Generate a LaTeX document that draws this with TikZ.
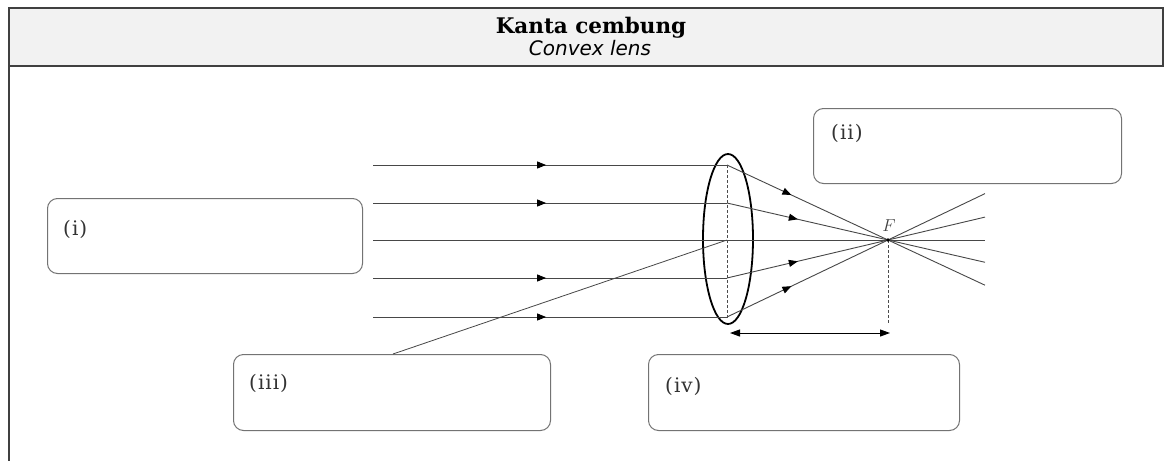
\documentclass[tikz,border=0pt]{standalone}
\usepackage{fontspec}
\setmainfont{DejaVu Serif}
\newfontfamily\subfont{DejaVu Sans}
\newfontfamily\lblfont[LetterSpace=5]{DejaVu Serif}
\usetikzlibrary{arrows.meta,decorations.markings,shapes.geometric}
\begin{document}
\begin{tikzpicture}[x=1pt,y=-1pt,
  framestroke/.style={draw=black!75,line width=1.2pt},
  ansbox/.style={draw=black!55,line width=1pt,rounded corners=10pt,anchor=north west,inner sep=0pt},
  lbl/.style={anchor=west,inner sep=0pt,text=black!80,font=\lblfont\fontsize{20}{21}\selectfont},
  ray/.style={draw=black!72,line width=0.9pt},
  arrowat/.style={postaction={decorate,decoration={markings,mark=at position #1 with {\arrow[black]{Triangle[length=9pt,width=7pt]}}}}},
  guide/.style={draw=black!70,line width=0.7pt,dash pattern=on 3pt off 2pt},
  dimarrow/.style={draw=black,line width=1pt,{Triangle[length=10pt,width=7pt]}-{Triangle[length=10pt,width=7pt]}}
]
\useasboundingbox (0,0) rectangle (1165,461);
\fill[white] (0,0) rectangle (1165,461);

% header and frame
\path[fill=black!5,framestroke] (9,8) rectangle (1163,66);
\draw[framestroke] (9,66) -- (9,461);
\node[anchor=base,inner sep=0pt,font=\fontsize{21.5}{24}\selectfont\bfseries] (t1) at (591,33) {Kanta cembung};
\node[anchor=base,inner sep=0pt,font=\subfont\itshape\fontsize{20}{24}\selectfont] (t2) at (590,55) {Convex lens};

% answer boxes
\node[ansbox,minimum width=315pt,minimum height=75pt] (bi) at (47,198) {};
\node[ansbox,minimum width=308pt,minimum height=75pt] (bii) at (813,108) {};
\node[ansbox,minimum width=317pt,minimum height=76pt] (biii) at (233,354) {};
\node[ansbox,minimum width=311pt,minimum height=76pt] (biv) at (648,354) {};
\node[lbl] (li) at (63,229) {(i)};
\node[lbl] (lii) at (831,133) {(ii)};
\node[lbl] (liii) at (249,383) {(iii)};
\node[lbl] (liv) at (665,386) {(iv)};

% lens
\node[draw=black,ellipse,line width=1.8pt,minimum width=50pt,minimum height=170pt,inner sep=0pt] (lens) at (728,239) {};

% coordinates
\coordinate (F) at (888,240);
\coordinate (s1) at (373,165);  \coordinate (l1) at (727,165);
\coordinate (s2) at (373,203);  \coordinate (l2) at (727,203);
\coordinate (s3) at (373,240);  \coordinate (e3) at (985,240);
\coordinate (s4) at (373,278);  \coordinate (l4) at (727,278);
\coordinate (s5) at (373,317);  \coordinate (l5) at (727,317);
\coordinate (e1) at (985,285.2);
\coordinate (e2) at (985,262.3);
\coordinate (e4) at (985,217.1);
\coordinate (e5) at (985,193.6);
\coordinate (lc) at (727,240);
\coordinate (lead) at (393,354);
\coordinate (dtop) at (727,165);
\coordinate (dbot) at (727,319);
\coordinate (fbot) at (888,324);
\coordinate (da) at (730,333);
\coordinate (db) at (890,333);

% incident rays
\draw[ray,arrowat=0.489] (s1) -- (l1);
\draw[ray,arrowat=0.489] (s2) -- (l2);
\draw[ray] (s3) -- (e3);
\draw[ray,arrowat=0.489] (s4) -- (l4);
\draw[ray,arrowat=0.489] (s5) -- (l5);

% refracted rays
\draw[ray,arrowat=0.40] (l1) -- (F);
\draw[ray,arrowat=0.44] (l2) -- (F);
\draw[ray,arrowat=0.44] (l4) -- (F);
\draw[ray,arrowat=0.40] (l5) -- (F);
\draw[ray] (F) -- (e1);
\draw[ray] (F) -- (e2);
\draw[ray] (F) -- (e4);
\draw[ray] (F) -- (e5);

% leader line to lens centre
\draw[ray,line width=0.8pt] (lead) -- (lc);

% guides
\draw[guide] (dtop) -- (dbot);
\draw[guide] (F) -- (fbot);
\fill[black] (F) circle[radius=1.8pt];
\node[inner sep=0pt,text=black!75,font=\fontsize{16}{16}\selectfont] (Flbl) at (889,226) {$F$};

% focal length arrow
\draw[dimarrow] (da) -- (db);
\end{tikzpicture}
\end{document}
